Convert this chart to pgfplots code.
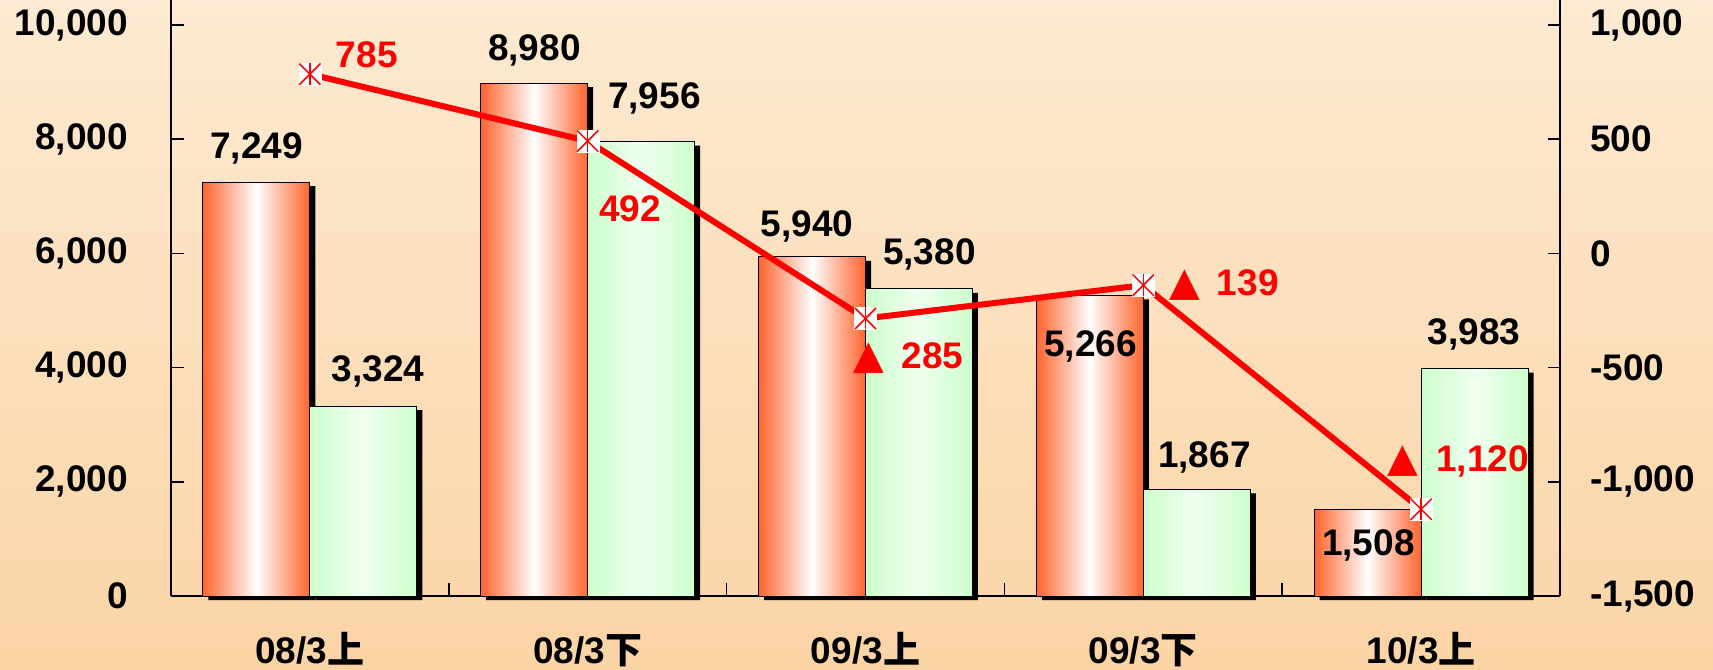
\documentclass[border=0pt]{standalone}
\usepackage{pgfplots}
\pgfplotsset{compat=1.18}
\usepackage{fontspec}
\setmainfont{Liberation Sans}
\newfontfamily\cjk{Noto Sans CJK JP}
\newfontfamily\sym{DejaVu Sans}
\definecolor{barred}{RGB}{255,100,45}
\definecolor{bargreen}{RGB}{204,255,204}
\definecolor{bargreenlight}{RGB}{240,255,240}
\definecolor{bgtop}{RGB}{253,234,210}
\definecolor{bgbot}{RGB}{251,212,165}
\definecolor{linered}{RGB}{255,0,0}
\newcommand{\tri}{{\sym\fontsize{40bp}{40bp}\selectfont ▲}}
\pgfplotsset{
  redbar/.style={ybar, bar width=0.385, bar shift=-0.1925, draw=black, line width=1bp,
    left color=barred, right color=barred, middle color=white},
  greenbar/.style={ybar, bar width=0.385, bar shift=0.1925, draw=black, line width=1bp,
    left color=bargreen, right color=bargreen, middle color=bargreenlight},
}
\begin{document}
\begin{tikzpicture}[font=\fontsize{37bp}{44bp}\selectfont\bfseries]
\path[use as bounding box, top color=bgtop, bottom color=bgbot] (-171bp,-74bp) rectangle (1542bp,596bp);
\begin{axis}[
  scale only axis, width=1389bp, height=596bp,
  xmin=-0.5, xmax=4.5, ymin=0, ymax=10438,
  axis y line*=left, axis x line*=bottom,
  axis line style={line width=1.5bp, -},
  clip=false,
  tick align=inside,
  tick style={black, line width=1.5bp},
  major tick length=13bp,
  xtick={0.5,1.5,2.5,3.5},
  xticklabels={},
  extra x ticks={0,1,2,3,4},
  extra x tick labels={08/3{\cjk 上},08/3{\cjk 下},09/3{\cjk 上},09/3{\cjk 下},10/3{\cjk 上}},
  extra x tick style={major tick length=0pt},
  xticklabel style={anchor=base, inner sep=0pt, yshift=-67bp},
  ytick={0,2000,4000,6000,8000,10000},
  yticklabels={{0},{2,000},{4,000},{6,000},{8,000},{10,000}},
  yticklabel style={anchor=east, inner sep=0pt, xshift=-43bp},
]
% shadows
\addplot[ybar, bar width=0.385, bar shift=-0.1925, fill=black, draw=none, xshift=5.5bp, yshift=-4bp]
  coordinates {(0,7249)(1,8980)(2,5940)(3,5266)(4,1508)};
\addplot[ybar, bar width=0.385, bar shift=0.1925, fill=black, draw=none, xshift=5.5bp, yshift=-4bp]
  coordinates {(0,3324)(1,7956)(2,5380)(3,1867)(4,3983)};
% bars (one plot per bar so that each bar gets its own shading)
\addplot[redbar] coordinates {(0,7249)};
\addplot[redbar] coordinates {(1,8980)};
\addplot[redbar] coordinates {(2,5940)};
\addplot[redbar] coordinates {(3,5266)};
\addplot[redbar] coordinates {(4,1508)};
\addplot[greenbar] coordinates {(0,3324)};
\addplot[greenbar] coordinates {(1,7956)};
\addplot[greenbar] coordinates {(2,5380)};
\addplot[greenbar] coordinates {(3,1867)};
\addplot[greenbar] coordinates {(4,3983)};
% bar value labels
\begin{scope}[every node/.style={anchor=base, inner sep=0pt, text=black}]
\node at (axis cs:-0.192,7665) {7,249};
\node at (axis cs:0.245,3756) {3,324};
\node at (axis cs:0.808,9387) {8,980};
\node at (axis cs:1.24,8546) {7,956};
\node at (axis cs:1.79,6296) {5,940};
\node at (axis cs:2.23,5797) {5,380};
\node at (axis cs:2.81,4190) {5,266};
\node at (axis cs:3.22,2259) {1,867};
\node at (axis cs:3.81,718) {1,508};
\node at (axis cs:4.19,4396) {3,983};
\end{scope}
% line value labels
\begin{scope}[every node/.style={anchor=base, inner sep=0pt, text=linered}]
\node at (axis cs:0.205,9247) {785};
\node at (axis cs:1.152,6550) {492};
\node at (axis cs:2.012,3993) {\tri};
\node at (axis cs:2.241,3993) {285};
\node at (axis cs:3.148,5271) {\tri};
\node at (axis cs:3.376,5271) {139};
\node at (axis cs:3.934,2177) {\tri};
\node at (axis cs:4.221,2177) {1,120};
\end{scope}
\end{axis}
\begin{axis}[
  scale only axis, width=1389bp, height=596bp,
  xmin=-0.5, xmax=4.5, ymin=-1500, ymax=1109.5,
  axis y line*=right, axis x line=none,
  axis line style={line width=1.5bp, -},
  clip=false,
  tick align=inside,
  tick style={black, line width=1.5bp},
  major tick length=12bp,
  ytick={-1500,-1000,-500,0,500,1000},
  yticklabels={{-1,500},{-1,000},{-500},{0},{500},{1,000}},
  yticklabel style={anchor=west, inner sep=0pt, xshift=30bp},
]
\addplot[linered, line width=6bp, mark=none]
  coordinates {(0,785)(1,492)(2,-285)(3,-139)(4,-1120)};
\addplot[only marks, mark=square*, mark size=11bp,
  mark options={fill=white, draw=white, line width=0.1bp}]
  coordinates {(0,785)(1,492)(2,-285)(3,-139)(4,-1120)};
\addplot[only marks, linered, mark=x, mark size=15bp, mark options={line width=1.5bp}]
  coordinates {(0,785)(1,492)(2,-285)(3,-139)(4,-1120)};
\addplot[only marks, linered, mark=|, mark size=11bp, mark options={line width=1.5bp}]
  coordinates {(0,785)(1,492)(2,-285)(3,-139)(4,-1120)};
\end{axis}
\end{tikzpicture}
\end{document}
